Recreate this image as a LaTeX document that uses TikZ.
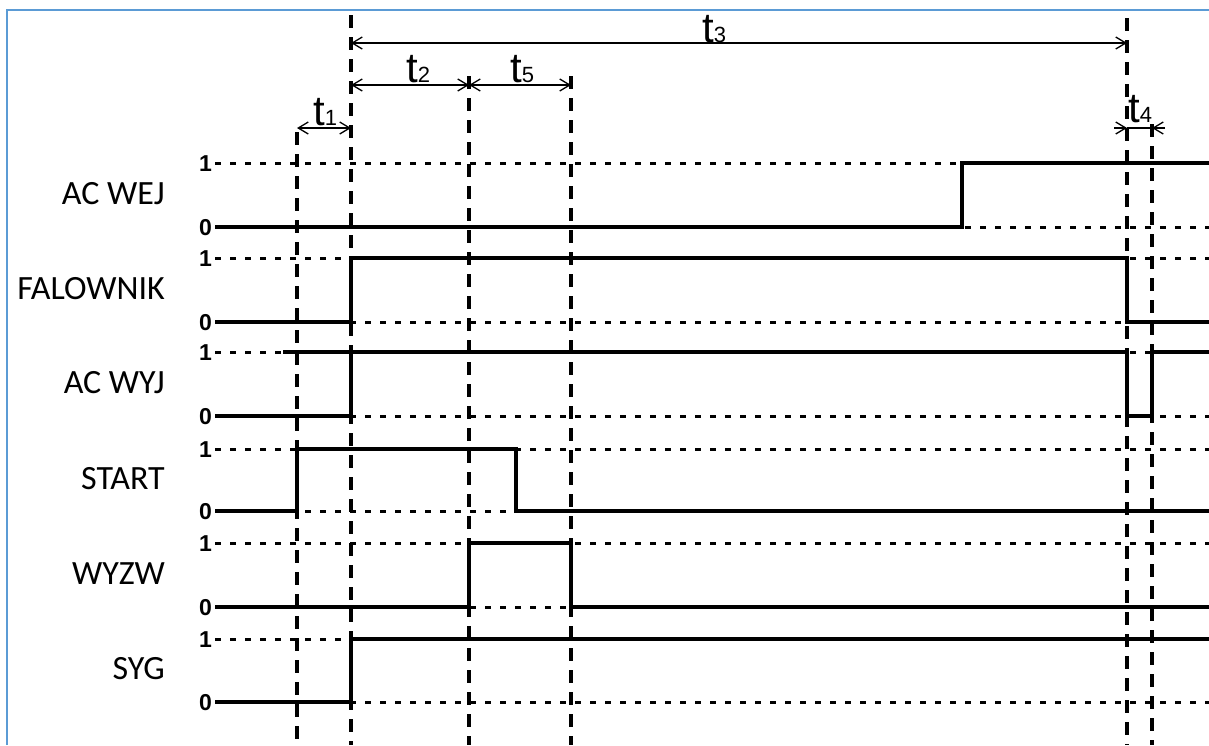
\documentclass[tikz,border=0pt]{standalone}
\usepackage{fontspec}
\setmainfont{Liberation Sans}
\newfontfamily\calfont{Carlito}
\usetikzlibrary{arrows.meta}
\definecolor{framecol}{RGB}{91,155,213}
\tikzset{
 sig/.style={line width=3.2pt, line join=miter, line cap=butt},
 lvl/.style={line width=3pt, dash pattern=on 6pt off 9pt},
 marker/.style={line width=3.2pt, dash pattern=on 13pt off 9pt},
 dim/.style={line width=1.3pt, {Straight Barb[length=10pt,width=12pt]}-{Straight Barb[length=10pt,width=12pt]}},
 dimr/.style={line width=1.3pt, -{Straight Barb[length=10pt,width=12pt]}},
 sname/.style={anchor=base east, font=\calfont\fontsize{34}{34}\selectfont, inner sep=0pt},
 lev/.style={anchor=base east, font=\bfseries\fontsize{23}{23}\selectfont, inner sep=0pt},
 tlab/.style={anchor=base west, inner sep=0pt},
}
\newcommand{\mytlab}[1]{{\fontsize{42}{42}\selectfont t}{\fontsize{22}{22}\selectfont #1}}
\begin{document}
\begin{tikzpicture}[x=1pt,y=-1pt]
\useasboundingbox (0,0) rectangle (1209,745);
% frame
\draw[framecol, line width=2.2pt] (7,745) -- (7,10) -- (1209,10);

% rows: name / high level / low level
\foreach \nm/\hi/\lo [count=\i] in {AC WEJ/163/227, FALOWNIK/258/322, AC WYJ/352/416, START/449/511, WYZW/543/607, SYG/639/702}{
  \draw[lvl] (215,\hi) -- (1209,\hi);
  \draw[lvl] (215,\lo) -- (1209,\lo);
  \node[lev] (one\i) at (212,\hi+8) {1};
  \node[lev] (zero\i) at (212,\lo+8) {0};
  \node[sname] (name\i) at (165,{(\hi+\lo)/2+9}) {\nm};
}

% time markers
\coordinate (m1top) at (297,132);  \coordinate (m1bot) at (297,745);
\coordinate (m2top) at (351,15);   \coordinate (m2bot) at (351,745);
\coordinate (m3top) at (469,76);   \coordinate (m3bot) at (469,745);
\coordinate (m4top) at (571,76);   \coordinate (m4bot) at (571,745);
\coordinate (m5top) at (1127,18);  \coordinate (m5bot) at (1127,745);
\coordinate (m6top) at (1152,124); \coordinate (m6bot) at (1152,745);
\foreach \k in {1,...,6}{ \draw[marker] (m\k top) -- (m\k bot); }

% signals
\draw[sig] (215,227) -- (962,227) -- (962,163) -- (1209,163);
\draw[sig] (215,322) -- (351,322) -- (351,258) -- (1127,258) -- (1127,322) -- (1209,322);
\draw[sig] (215,416) -- (351,416) -- (351,352);
\draw[sig] (283,352) -- (1127,352) -- (1127,416) -- (1152,416) -- (1152,352) -- (1209,352);
\draw[sig] (215,511) -- (297,511) -- (297,449) -- (516,449) -- (516,511) -- (1209,511);
\draw[sig] (215,607) -- (469,607) -- (469,543) -- (571,543) -- (571,607) -- (1209,607);
\draw[sig] (215,702) -- (351,702) -- (351,639) -- (1209,639);

% dimension arrows
\coordinate (d3a) at (351,43);  \coordinate (d3b) at (1127,43);
\coordinate (d2a) at (351,85);  \coordinate (d2b) at (469,85);
\coordinate (d5b) at (571,85);
\coordinate (d1a) at (297,128); \coordinate (d1b) at (351,128);
\coordinate (d4a) at (1127,128); \coordinate (d4b) at (1152,128);
\coordinate (d4l) at (1114,128); \coordinate (d4r) at (1165,128);
\draw[dim] (d3a) -- (d3b);
\draw[dim] (d2a) -- (d2b);
\draw[dim] (d2b) -- (d5b);
\draw[dim] (d1a) -- (d1b);
\draw[line width=1.3pt] (d4a) -- (d4b);
\draw[dimr] (d4l) -- (d4a);
\draw[dimr] (d4r) -- (d4b);

% labels
\node[tlab] (t3) at (702,42) {\mytlab{3}};
\node[tlab] (t2) at (406,82) {\mytlab{2}};
\node[tlab] (t5) at (510,82) {\mytlab{5}};
\node[tlab] (t1) at (313,125) {\mytlab{1}};
\node[tlab] (t4) at (1128,122) {\mytlab{4}};
\end{tikzpicture}
\end{document}
